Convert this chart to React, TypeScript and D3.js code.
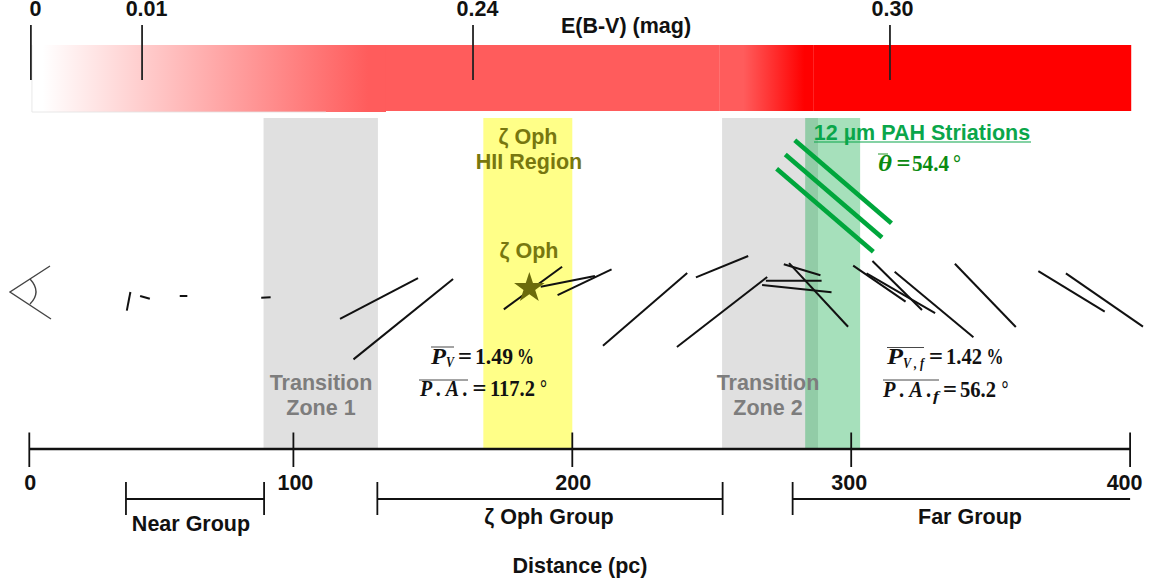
import React, { useEffect, useRef } from "react";
import * as d3 from "d3";

// distance axis (the first 100 pc are drawn a little tighter than the rest)
const axisTicks = [0, 100, 200, 300, 400];
const axisPixels = [29.3, 293.4, 572.3, 851.2, 1130.1];

// stars: distance (pc), polarization (%), position angle (deg), vertical shift (in % units)
const polDistance = [37.6, 43.8, 58.4, 89.6, 130.7, 139.4, 185.9, 198.4, 204.4, 226.1, 253.7, 253.7, 279.4, 280.5, 282.4, 288.3, 310.1, 316.5, 317.8, 329.7, 348.1, 379.0, 390.8];
const polPercent = [0.345, 0.184, 0.138, 0.171, 1.6, 2.327, 1.313, 1.005, 1.087, 2.024, 1.027, 2.078, 1.013, 1.269, 0.696, 1.578, 1.156, 1.267, 1.442, 1.864, 1.598, 1.415, 1.704];
const polAngle = [169.1, 74.4, 90, 92.4, 117.6, 128.9, 126.2, 101.1, 115.5, 130.8, 112.2, 127.8, 90, 84, 73.3, 42.8, 55.5, 45.3, 59.9, 50.2, 43.9, 58.5, 55.3];
const polShift = [-0.096, -0.024, 0, -0.027, -0.044, -0.422, 0.145, 0.265, 0.251, -0.244, 0.533, -0.291, 0.278, 0.135, 0.476, 0.02, 0.224, 0.191, 0.051, -0.155, 0.011, 0.084, -0.073];

// PAH striations
const striationDistance = [297.1, 293.7, 290.6];
const striationShift = [2.078, 1.818, 1.56];
const striationLength = 2.316;
const striationAngle = 49.4;

// extinction bar
const ebvLabels = ["0", "0.01", "0.24", "0.30"];
const ebvDistance = [0.6, 42.7, 164.4, 313.9];
const barEdges = [1, 133.2, 252.9, 286.6, 400.4];

// shaded distance ranges
const transitionZones = [[88.7, 130.3], [253.7, 288.1]];
const hiiRegion = [168.1, 200];
const pahRange = [283.5, 303.2];

// star groups
const groupNames = ["Near Group", "ζ Oph Group", "Far Group"];
const groupRanges = [[36.6, 88.9], [130.1, 253.9], [279, 400]];

const sans = "'Liberation Sans', Arial, sans-serif";
const serif = "'Liberation Serif', 'Times New Roman', serif";

const App = () => {
  const svgRef = useRef<SVGSVGElement>(null);

  useEffect(() => {
    const svg = d3.select(svgRef.current);
    svg.selectAll("*").remove();

    const x = d3.scaleLinear().domain(axisTicks).range(axisPixels);
    const y = d3.scaleLinear().domain([0, 1]).range([296, 241]);
    const len = d3.scaleLinear().domain([0, 1]).range([0, 55]);

    const defs = svg.append("defs");
    const fade1 = defs.append("linearGradient").attr("id", "fade1");
    fade1.append("stop").attr("offset", "0.03").attr("stop-color", "#ffffff");
    fade1.append("stop").attr("offset", "0.95").attr("stop-color", "#ff5c5c");
    const fade2 = defs.append("linearGradient").attr("id", "fade2");
    fade2.append("stop").attr("offset", "0.25").attr("stop-color", "#ff5c5c");
    fade2.append("stop").attr("offset", "0.9").attr("stop-color", "#ff0000");

    // extinction bar
    const barFills = ["url(#fade1)", "#ff5c5c", "url(#fade2)", "#ff0000"];
    barFills.forEach((fill, i) => {
      svg.append("rect")
        .attr("x", x(barEdges[i]))
        .attr("width", x(barEdges[i + 1]) - x(barEdges[i]))
        .attr("y", 45)
        .attr("height", i === 0 ? 67 : 66)
        .attr("fill", fill);
    });
    svg.append("path")
      .attr("d", `M${x(barEdges[0])},45V112H${x(barEdges[1]) - 60}`)
      .attr("fill", "none")
      .attr("stroke", "#e2e2e2")
      .attr("stroke-width", 0.8);

    const label = (t: string, px: number, py: number, fill = "#111", size = 21.5) =>
      svg.append("text")
        .attr("x", px).attr("y", py)
        .attr("text-anchor", "middle")
        .attr("font-family", sans).attr("font-weight", "bold").attr("font-size", size)
        .attr("fill", fill)
        .text(t);

    ebvDistance.forEach((d, i) => {
      svg.append("line")
        .attr("x1", x(d)).attr("x2", x(d))
        .attr("y1", 25).attr("y2", 80)
        .attr("stroke", "#222").attr("stroke-width", 1.8);
      label(ebvLabels[i], x(d) + (i === 3 ? 2.5 : 4.5), 16);
    });

    label("E(B-V) (mag)", 626, 33);

    // shaded ranges
    const band = (r: number[], fill: string, opacity = 1) =>
      svg.append("rect")
        .attr("x", x(r[0]))
        .attr("width", x(r[1]) - x(r[0]))
        .attr("y", 118).attr("height", 331)
        .attr("fill", fill).attr("fill-opacity", opacity);
    transitionZones.forEach(r => band(r, "#e0e0e0"));
    band(hiiRegion, "#ffff88");
    band(pahRange, "#00a63c", 0.35);

    // polarization segments
    const segment = (d: number, shift: number, p: number, angle: number) => {
      const a = angle * Math.PI / 180;
      const half = len(p) / 2;
      return [
        [x(d) - Math.sin(a) * half, y(shift) - Math.cos(a) * half],
        [x(d) + Math.sin(a) * half, y(shift) + Math.cos(a) * half],
      ] as [number, number][];
    };
    const line = d3.line();

    striationDistance.forEach((d, i) => {
      svg.append("path")
        .attr("d", line(segment(d, striationShift[i], striationLength, striationAngle)))
        .attr("stroke", "#00a63c").attr("stroke-width", 4.6).attr("fill", "none");
    });

    polDistance.forEach((d, i) => {
      svg.append("path")
        .attr("d", line(segment(d, polShift[i], polPercent[i], polAngle[i])))
        .attr("stroke", "#111").attr("stroke-width", 2).attr("fill", "none");
    });

    // zeta Oph
    svg.append("path")
      .attr("d", d3.symbol().type(d3.symbolStar).size(290)())
      .attr("transform", `translate(${x(184.6)},288)`)
      .attr("fill", "#6b6b0b");

    // eye
    const eye = d3.path();
    eye.moveTo(50, 266); eye.lineTo(10, 292); eye.lineTo(51, 319);
    eye.moveTo(30, 279); eye.quadraticCurveTo(42, 292, 30, 304);
    svg.append("path").attr("d", eye.toString())
      .attr("fill", "none").attr("stroke", "#444").attr("stroke-width", 1.4);

    // zone labels
    label("Transition", 321, 390, "#7d7d7d");
    label("Zone 1", 321, 415, "#7d7d7d");
    label("Transition", 768, 390, "#7d7d7d");
    label("Zone 2", 768, 415, "#7d7d7d");
    label("ζ Oph", 528, 144, "#77770f");
    label("HII Region", 529, 169, "#77770f");
    label("ζ Oph", 529, 258, "#77770f");

    // striation heading
    label("12 µm PAH Striations", 922, 140, "#0aa64a");
    svg.append("line")
      .attr("x1", 814).attr("x2", 1031).attr("y1", 142).attr("y2", 142)
      .attr("stroke", "#0aa64a").attr("stroke-width", 1.2);

    // math labels: the original is set narrow, so squeeze each piece to its measured width
    const math = (
      t: string, px: number, py: number, w: number, fill: string,
      size = 24, italic = false,
    ) => {
      const el = svg.append("text")
        .attr("font-family", serif).attr("font-weight", "bold").attr("font-size", size)
        .attr("font-style", italic ? "italic" : "normal")
        .attr("fill", fill)
        .text(t);
      const natural = (el.node() as SVGTextElement).getComputedTextLength();
      el.attr("transform", `translate(${px},${py}) scale(${w / natural},1)`);
      return el;
    };
    const bar = (x1: number, x2: number, py: number, stroke = "#333") =>
      svg.append("line")
        .attr("x1", x1).attr("x2", x2).attr("y1", py).attr("y2", py)
        .attr("stroke", stroke).attr("stroke-width", 0.9);
    const equals = (
      py: number, eqX: number, value: string, numX: number, numW: number,
      unit: string, unitX: number, unitW: number, fill = "#111",
    ) => {
      math("=", eqX, py, 14, fill);
      math(value, numX, py, numW, fill);
      math(unit, unitX, py, unitW, fill);
    };

    const black = "#111";
    math("P", 431, 363.5, 15, black, 24, true);
    math("V", 446, 367, 8, black, 14, true);
    bar(431, 454, 347);
    equals(363.5, 458, "1.49", 475, 38, "%", 517, 17);
    math("P . A .", 420, 395.5, 48, black, 24, true);
    bar(419, 468, 380);
    equals(395.5, 472.5, "117.2", 490, 45, "°", 540, 7);

    math("P", 887, 363.5, 16, black, 24, true);
    math("V , f", 903, 368, 21, black, 14, true);
    bar(887, 924, 347.5);
    equals(363.5, 929, "1.42", 946, 36, "%", 986.5, 17);
    math("P . A .", 883, 396.5, 49, black, 24, true);
    math("f", 933, 401, 6, black, 14, true);
    bar(883, 939, 380);
    equals(396.5, 943, "56.2", 960, 36, "°", 1001.5, 7);

    const green = "#0b8a10";
    math("θ", 878, 171, 14, green, 24, true);
    bar(878, 888, 154, green);
    equals(171, 896.5, "54.4", 912, 37, "°", 953, 8, green);

    // distance axis
    svg.append("line")
      .attr("x1", x(0)).attr("x2", x(400))
      .attr("y1", 449).attr("y2", 449)
      .attr("stroke", "#111").attr("stroke-width", 2.4);
    axisTicks.forEach(t => {
      svg.append("line")
        .attr("x1", x(t)).attr("x2", x(t))
        .attr("y1", 432.5).attr("y2", 467)
        .attr("stroke", "#111").attr("stroke-width", 1.8);
      const shift = t === 400 ? -5.5 : t === 100 ? 2 : t === 300 ? -2 : 1;
      label(String(t), x(t) + shift, 490);
    });

    // group brackets
    groupRanges.forEach((r, i) => {
      svg.append("line")
        .attr("x1", x(r[0])).attr("x2", x(r[1]))
        .attr("y1", 499).attr("y2", 499)
        .attr("stroke", "#111").attr("stroke-width", 2);
      (i === 2 ? [r[0]] : r).forEach(v => {
        svg.append("line")
          .attr("x1", x(v)).attr("x2", x(v))
          .attr("y1", 482).attr("y2", 515)
          .attr("stroke", "#111").attr("stroke-width", 1.8);
      });
    });
    label(groupNames[0], 191, 531);
    label(groupNames[1], 549, 524);
    label(groupNames[2], 970, 524);
    label("Distance (pc)", 580, 573);
  }, []);

  return (
    <svg
      ref={svgRef}
      width={1149}
      height={583}
      style={{ position: "absolute", left: 0, top: 0, background: "#fff" }}
    />
  );
};

export default App;
